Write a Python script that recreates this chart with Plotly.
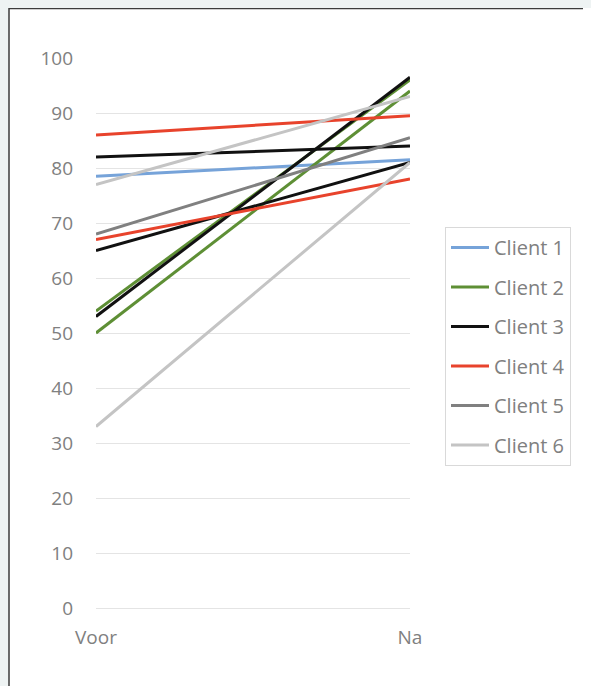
import plotly.graph_objects as go

# ---- data ----
categories = ["Voor", "Na"]
client_names = ["Client 1", "Client 2", "Client 3", "Client 4", "Client 5", "Client 6"]
client1 = [[78.5, 81.5]]
client2 = [[54, 96], [50, 94]]
client3 = [[82, 84], [65, 81], [53, 96.5]]
client4 = [[86, 89.5], [67, 78]]
client5 = [[68, 85.5]]
client6 = [[77, 93], [33, 81]]
y_ticks = [0, 10, 20, 30, 40, 50, 60, 70, 80, 90, 100]

colors = ["#76a3d9", "#5e8f35", "#111111", "#e8432c", "#808080", "#c4c4c4"]
all_clients = [client1, client2, client3, client4, client5, client6]

# page is offset by the 8px body margin; figure sized to fit the window
OFF = 8
W, H = 591 - OFF, 686 - OFF
L, R, T, B = 96 - OFF, 410 - OFF, 58 - OFF, 608 - OFF

fig = go.Figure()
for name, series, color in zip(client_names, all_clients, colors):
    for i, vals in enumerate(series):
        fig.add_trace(go.Scatter(
            x=categories, y=vals, mode="lines", name=name,
            legendgroup=name, showlegend=(i == 0),
            line=dict(color=color, width=3),
        ))

font_family = "Open Sans, Arial, sans-serif"
txt_color = "#808080"

def px_x(px):
    return (px - OFF - L) / (R - L)

def px_y(py):
    return (B - (py - OFF)) / (B - T)

fig.add_shape(type="rect", xref="paper", yref="paper",
              x0=px_x(9), x1=px_x(640), y0=px_y(740), y1=px_y(8.5),
              fillcolor="white", line=dict(color="#3c3c3c", width=1.5),
              layer="below")

fig.update_layout(
    width=W, height=H,
    margin=dict(l=L, r=W - R, t=T, b=H - B, pad=0),
    paper_bgcolor="#eef3f3",
    plot_bgcolor="rgba(0,0,0,0)",
    font=dict(family=font_family, size=19, color=txt_color),
    showlegend=True,
    legend=dict(
        x=px_x(445), y=px_y(227), xanchor="left", yanchor="top",
        bordercolor="#d9d9d9", borderwidth=1, bgcolor="white",
        traceorder="grouped", tracegroupgap=10.5, itemwidth=38,
        font=dict(family=font_family, size=20, color=txt_color),
    ),
    xaxis=dict(
        type="category", range=[0, 1], showgrid=False, showline=False,
        zeroline=False, ticks="", ticklabelstandoff=16,
        tickfont=dict(size=19, color=txt_color),
    ),
    yaxis=dict(
        range=[0, 100], tickvals=y_ticks, showgrid=True, gridcolor="#e4e4e4",
        gridwidth=1, zeroline=True, zerolinecolor="#e4e4e4", zerolinewidth=1,
        showline=False, ticks="", ticklabelstandoff=22,
        tickfont=dict(size=19, color=txt_color),
    ),
)

fig.write_html(
    "out.html",
    post_script=(
        "document.body.style.background="
        "'linear-gradient(#eef3f3 8px, transparent 8px),"
        " linear-gradient(to right, #eef3f3 8px, #ffffff 8px)';"
    ),
)
